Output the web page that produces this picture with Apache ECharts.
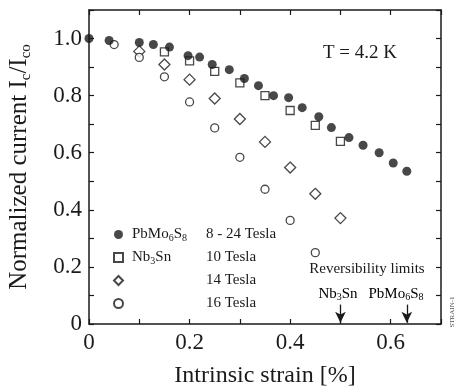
<!DOCTYPE html>
<html>
<head>
<meta charset="utf-8">
<script src="https://cdn.jsdelivr.net/npm/echarts@6/dist/echarts.min.js"></script>
<style>
  html, body { margin: 0; padding: 0; background: #fff; }
  #chart { width: 461px; height: 388px; }
</style>
</head>
<body>
<div id="chart"></div>
<script>
// strain values (%) and normalized Ic/Ico
var pbStrain = [0, 0.04, 0.1, 0.128, 0.16, 0.197, 0.22, 0.245, 0.279, 0.309, 0.337, 0.367, 0.397, 0.424, 0.457, 0.482, 0.517, 0.545, 0.577, 0.605, 0.632];
var pbIc = [1.0, 0.993, 0.986, 0.979, 0.97, 0.94, 0.935, 0.909, 0.891, 0.86, 0.835, 0.80, 0.793, 0.758, 0.726, 0.688, 0.653, 0.626, 0.60, 0.564, 0.535];

var nb10Strain = [0.15, 0.2, 0.25, 0.3, 0.35, 0.4, 0.45, 0.5];
var nb10Ic = [0.953, 0.922, 0.885, 0.845, 0.80, 0.748, 0.696, 0.64];

var nb14Strain = [0.1, 0.15, 0.2, 0.25, 0.3, 0.35, 0.4, 0.45, 0.5];
var nb14Ic = [0.955, 0.909, 0.856, 0.79, 0.718, 0.638, 0.548, 0.456, 0.371];

var nb16Strain = [0.05, 0.1, 0.15, 0.2, 0.25, 0.3, 0.35, 0.4, 0.45];
var nb16Ic = [0.979, 0.934, 0.866, 0.778, 0.687, 0.584, 0.472, 0.363, 0.25];

// reversibility limits (strain %)
var limitNb3Sn = 0.5;
var limitPbMo = 0.632;

var seriesNames = ['PbMo6S8 8-24', 'Nb3Sn 10', 'Nb3Sn 14', 'Nb3Sn 16'];
var materialLabels = ['{m|PbMo}{s|6}{m|S}{s|8}', '{m|Nb}{s|3}{m|Sn}', '', ''];
var fieldLabels = ['8 - 24 Tesla', '10 Tesla', '14 Tesla', '16 Tesla'];

var serif = 'Liberation Serif';
var ink = '#1a1a1a';

function pairs(xs, ys) {
  var out = [];
  for (var i = 0; i < xs.length; i++) out.push([xs[i], ys[i]]);
  return out;
}

function evenLabel(v) {
  var k = Math.round(v * 10);
  if (k % 2 !== 0) return '';
  return k === 0 ? '0' : v.toFixed(1);
}

var subRich = {
  m: { fontFamily: serif, fontSize: 15, color: ink, lineHeight: 17 },
  s: { fontFamily: serif, fontSize: 10, color: ink, lineHeight: 12, verticalAlign: 'bottom' }
};

var hollow = { color: '#fff', borderColor: ink, borderWidth: 1.3 };

var frameLine = { show: true, onZero: false, lineStyle: { color: ink, width: 1.5 } };
var frameTick = { show: true, inside: true, length: 5, lineStyle: { color: ink, width: 1.2 } };

var chart = echarts.init(document.getElementById('chart'));
var option = {
  backgroundColor: '#fff',
  animation: false,
  grid: { left: 89, right: 20, top: 10, bottom: 64, outerBoundsMode: 'none' },
  legend: [{
    left: 108, top: 221, orient: 'vertical',
    itemWidth: 9, itemHeight: 9, itemGap: 6,
    selectedMode: false,
    data: seriesNames,
    formatter: function (name) { return materialLabels[seriesNames.indexOf(name)] || ' '; },
    textStyle: { padding: [0, 0, 0, 4], rich: subRich, lineHeight: 17 }
  }, {
    left: 195, top: 221, orient: 'vertical',
    itemWidth: 0, itemHeight: 9, itemGap: 6,
    selectedMode: false,
    data: seriesNames,
    itemStyle: { opacity: 0 },
    formatter: function (name) { return '{m|' + fieldLabels[seriesNames.indexOf(name)] + '}'; },
    textStyle: { rich: subRich, lineHeight: 17 }
  }],
  xAxis: [{
    type: 'value', min: 0, max: 0.7, interval: 0.1,
    name: 'Intrinsic strain [%]',
    nameLocation: 'middle', nameGap: 40,
    nameTextStyle: { fontFamily: serif, fontSize: 24, color: ink },
    axisLine: frameLine,
    axisTick: frameTick,
    axisLabel: { fontFamily: serif, fontSize: 23, color: ink, margin: 7, formatter: evenLabel },
    splitLine: { show: false }
  }, {
    type: 'value', position: 'top', min: 0, max: 0.7, interval: 0.1,
    axisLine: frameLine,
    axisTick: frameTick,
    axisLabel: { show: false },
    splitLine: { show: false }
  }],
  yAxis: [{
    type: 'value', min: 0, max: 1.1, interval: 0.1,
    name: '{m|Normalized current I}{s|c}{m|/I}{s|co}',
    nameLocation: 'middle', nameGap: 55,
    nameTextStyle: {
      rich: {
        m: { fontFamily: serif, fontSize: 25, color: ink, lineHeight: 30 },
        s: { fontFamily: serif, fontSize: 15, color: ink, lineHeight: 15, verticalAlign: 'bottom' }
      }
    },
    axisLine: frameLine,
    axisTick: frameTick,
    axisLabel: { fontFamily: serif, fontSize: 23, color: ink, margin: 7, formatter: evenLabel },
    splitLine: { show: false }
  }, {
    type: 'value', position: 'right', min: 0, max: 1.1, interval: 0.1,
    axisLine: frameLine,
    axisTick: frameTick,
    axisLabel: { show: false },
    splitLine: { show: false }
  }],
  series: [{
    name: seriesNames[0], type: 'scatter',
    symbol: 'circle', symbolSize: 9,
    itemStyle: { color: ink },
    data: pairs(pbStrain, pbIc),
    z: 5,
    markLine: {
      silent: true,
      symbol: ['none', 'arrow'], symbolSize: [8, 11],
      label: { show: false },
      lineStyle: { color: ink, width: 1.3, type: 'solid' },
      data: [
        [{ coord: [limitNb3Sn, 0.068] }, { coord: [limitNb3Sn, 0.004] }],
        [{ coord: [limitPbMo, 0.068] }, { coord: [limitPbMo, 0.004] }]
      ]
    }
  }, {
    name: seriesNames[1], type: 'scatter',
    symbol: 'rect', symbolSize: 8,
    itemStyle: hollow,
    data: pairs(nb10Strain, nb10Ic)
  }, {
    name: seriesNames[2], type: 'scatter',
    symbol: 'diamond', symbolSize: 11,
    itemStyle: hollow,
    data: pairs(nb14Strain, nb14Ic)
  }, {
    name: seriesNames[3], type: 'scatter',
    symbol: 'circle', symbolSize: 8,
    itemStyle: hollow,
    data: pairs(nb16Strain, nb16Ic)
  }],
  graphic: [{
    type: 'text', left: 323, top: 44,
    style: { text: 'T = 4.2 K', fontFamily: serif, fontSize: 19, fill: ink }
  }, {
    type: 'text', x: 367, y: 269,
    style: { text: 'Reversibility limits', fontFamily: serif, fontSize: 15, fill: ink, align: 'center', verticalAlign: 'middle' }
  }, {
    type: 'text', x: 338, y: 294,
    style: { text: '{m|Nb}{s|3}{m|Sn}', rich: subRich, align: 'center', verticalAlign: 'middle' }
  }, {
    type: 'text', x: 396, y: 294,
    style: { text: '{m|PbMo}{s|6}{m|S}{s|8}', rich: subRich, align: 'center', verticalAlign: 'middle' }
  }, {
    type: 'text', x: 452, y: 312, rotation: Math.PI / 2,
    style: { text: 'STRAIN-1', fontFamily: serif, fontSize: 7, fill: '#555', align: 'center', verticalAlign: 'middle' }
  }]
};
chart.setOption(option);
</script>
</body>
</html>
